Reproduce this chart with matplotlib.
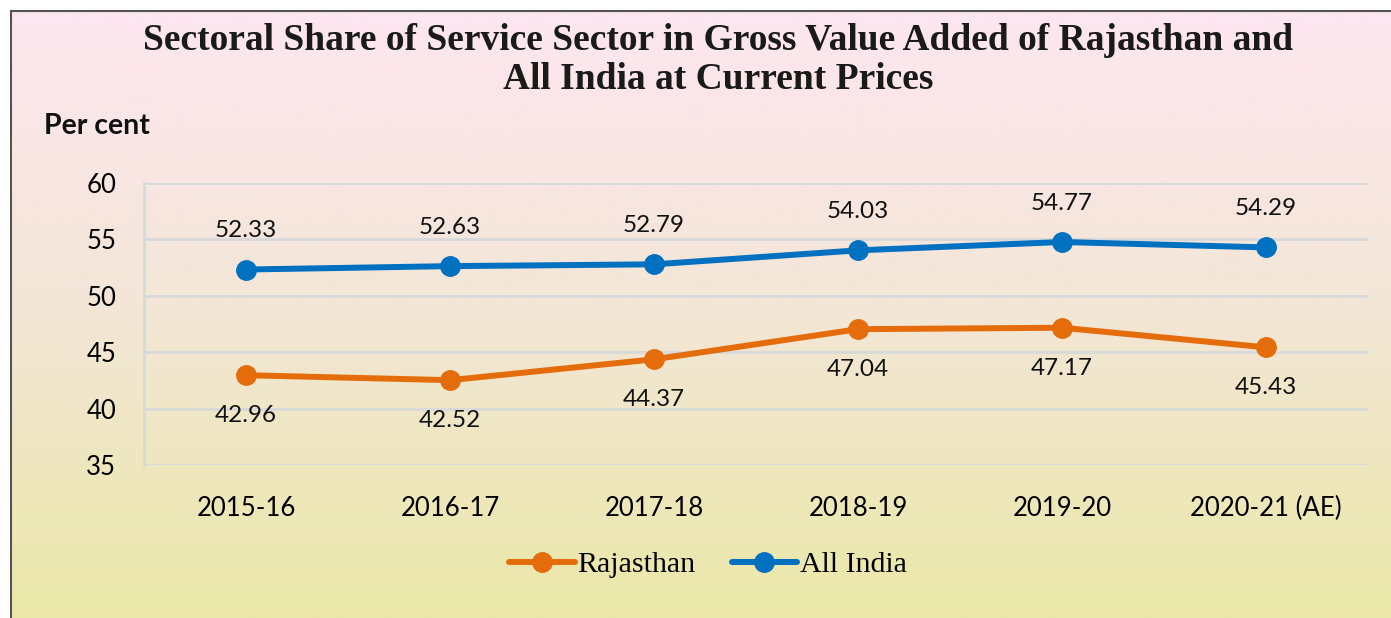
import numpy as np
import matplotlib
matplotlib.use("Agg")
import matplotlib.pyplot as plt
from matplotlib.colors import LinearSegmentedColormap
from matplotlib.patches import Rectangle
from matplotlib.lines import Line2D

categories = ["2015-16", "2016-17", "2017-18", "2018-19", "2019-20", "2020-21 (AE)"]
rajasthan = [42.96, 42.52, 44.37, 47.04, 47.17, 45.43]
all_india = [52.33, 52.63, 52.79, 54.03, 54.77, 54.29]
yticks = [35, 40, 45, 50, 55, 60]

W, H = 1391, 618
fig = plt.figure(figsize=(W / 100, H / 100), dpi=100)

# background gradient
bg = fig.add_axes([0, 0, 1, 1], zorder=0)
bg.set_xlim(0, W); bg.set_ylim(H, 0); bg.axis("off")
cmap = LinearSegmentedColormap.from_list("g", ["#FDE6F0", "#F3E6D6", "#EAE8A8"])
grad = np.linspace(0, 1, 256).reshape(-1, 1)
bg.imshow(grad, cmap=cmap, aspect="auto", extent=[10, W, H, 10])
bg.add_patch(Rectangle((0, 0), W, 10, color="white", zorder=2))
bg.add_patch(Rectangle((0, 0), 10, H, color="white", zorder=2))
bg.plot([10.5, 10.5], [10.5, H], color="#555555", lw=1.5, zorder=3)
bg.plot([10.5, W], [10.5, 10.5], color="#555555", lw=1.5, zorder=3)

ax = fig.add_axes([144 / W, 1 - 465 / H, (1368 - 144) / W, (465 - 183) / H], zorder=1)
ax.patch.set_alpha(0)
x = np.arange(len(categories))
ax.set_xlim(-0.5, len(categories) - 0.5)
ax.set_ylim(35, 60)
ax.set_yticks(yticks)
ax.grid(axis="y", color="#D9D9D9", lw=2)
ax.set_axisbelow(True)
for s in ["top", "right", "bottom"]:
    ax.spines[s].set_visible(False)
ax.spines["left"].set_color("#D9D9D9")
ax.spines["left"].set_linewidth(2)
ax.tick_params(length=0, labelsize=18.5)
ax.set_xticks(x)
ax.set_xticklabels(categories)
for lab in ax.get_xticklabels() + ax.get_yticklabels():
    lab.set_fontfamily("Lato")
ax.tick_params(axis="x", pad=22)
ax.tick_params(axis="y", pad=20)

orange = "#E46C0A"
blue = "#0070C0"
ax.plot(x, rajasthan, color=orange, lw=4.3, marker="o", ms=14, solid_capstyle="round")
ax.plot(x, all_india, color=blue, lw=4.3, marker="o", ms=14, solid_capstyle="round")

for xi, v in zip(x, rajasthan):
    ax.annotate(f"{v:.2f}", (xi, v), xytext=(0, -29), textcoords="offset points",
                ha="center", va="center", fontsize=17.5, fontfamily="Lato", color="#111111")
for xi, v in zip(x, all_india):
    ax.annotate(f"{v:.2f}", (xi, v), xytext=(0, 28), textcoords="offset points",
                ha="center", va="center", fontsize=17.5, fontfamily="Lato", color="#111111")

fig.text(718 / W, 1 - 60 / H,
         "Sectoral Share of Service Sector in Gross Value Added of Rajasthan and\nAll India at Current Prices",
         ha="center", va="center", fontsize=27, fontweight="bold", fontfamily="Liberation Serif",
         color="#1a1a1a", linespacing=1.15)
fig.text(44 / W, 1 - 126 / H, "Per cent", ha="left", va="center", fontsize=20.5,
         fontweight="bold", fontfamily="Lato", color="#111111")

handles = [Line2D([], [], color=orange, lw=4.3, marker="o", ms=14, solid_capstyle="round"),
           Line2D([], [], color=blue, lw=4.3, marker="o", ms=14, solid_capstyle="round")]
fig.legend(handles, ["Rajasthan", "All India"], loc="center", bbox_to_anchor=(708 / W, 1 - 565 / H),
           ncol=2, frameon=False, prop={"family": "Liberation Serif", "size": 21.5},
           handlelength=2.2, handletextpad=0.1, columnspacing=1.2)

fig.savefig("out.png", dpi=100)
